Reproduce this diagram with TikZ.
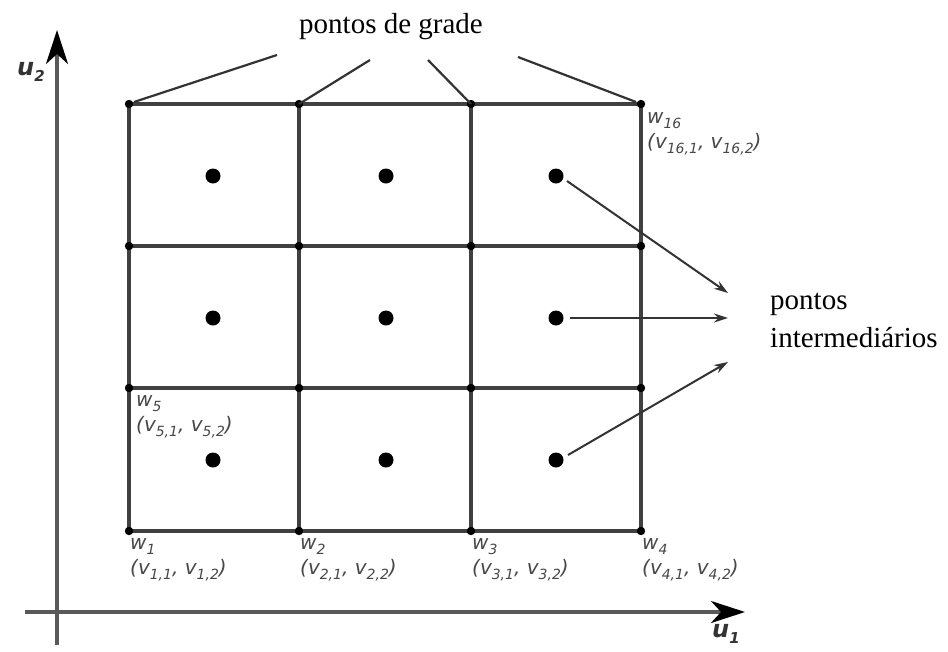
\documentclass[tikz,border=0pt]{standalone}
\usepackage{fontspec}
\setmainfont{Liberation Serif}
\newfontfamily\labf{DejaVu Sans}
\usetikzlibrary{arrows.meta}
\newcommand\lsub[1]{\raisebox{-0.45ex}{\fontsize{14}{14}\selectfont #1}}
\newcommand\bsub[1]{\raisebox{-0.45ex}{\fontsize{15}{15}\selectfont #1}}
\begin{document}
\begin{tikzpicture}[x=1pt,y=-1pt,
  gridline/.style={line width=3.2pt, draw=black!75},
  gdot/.style={fill=black},
  mdot/.style={fill=black},
  axisline/.style={line width=3.4pt, draw=black!65, -{Stealth[length=34pt,width=22pt,inset=10pt,color=black]}},
  ptr/.style={line width=2pt, draw=black!80, -{Stealth[length=14pt,width=9pt]}},
  lead/.style={line width=2.2pt, draw=black!80},
  wlab/.style={anchor=north west, inner sep=0pt, align=left, text=black!72,
    font=\labf\itshape\fontsize{20}{25}\selectfont},
  ulab/.style={font=\labf\itshape\bfseries\fontsize{24}{24}\selectfont, text=black!80},
  bigtext/.style={font=\fontsize{29}{38}\selectfont, inner sep=0pt}
]
\useasboundingbox (0,0) rectangle (948,651);

% axes
\coordinate (yb) at (57,645);
\coordinate (yt) at (57,30);
\coordinate (xl) at (25,612);
\coordinate (xr) at (745,612);
\draw[axisline] (yb) -- (yt);
\draw[axisline] (xl) -- (xr);
\node[ulab] (u2) at (31,72) {u\bsub{2}};
\node[ulab] (u1) at (726,634) {u\bsub{1}};

% grid coordinates
\foreach \i/\x in {1/129,2/299,3/471,4/641}{
  \foreach \j/\y in {1/531,2/388,3/246,4/104}{
    \coordinate (g-\i-\j) at (\x,\y);
  }
}
% grid lines
\foreach \j in {1,2,3,4}{ \draw[gridline] (g-1-\j) -- (g-4-\j); }
\foreach \i in {1,2,3,4}{ \draw[gridline] (g-\i-1) -- (g-\i-4); }
% grid dots
\foreach \i in {1,2,3,4}{ \foreach \j in {1,2,3,4}{ \fill[gdot] (g-\i-\j) circle (4.2pt); } }

% intermediate points
\foreach \i/\x in {1/213,2/386,3/556}{
  \foreach \j/\y in {1/460,2/318,3/176}{
    \coordinate (m-\i-\j) at (\x,\y);
    \fill[mdot] (m-\i-\j) circle (7.5pt);
  }
}

% leads to "pontos de grade"
\node[bigtext] (grade) at (391,27) {pontos de grade};
\coordinate (c1) at (277,55);
\coordinate (c2) at (370,60);
\coordinate (c3) at (428,60);
\coordinate (c4) at (518,57);
\draw[lead] (g-1-4) ++(5,-2) -- (c1);
\draw[lead] (g-2-4) -- (c2);
\draw[lead] (g-3-4) -- (c3);
\draw[lead] (g-4-4) ++(-5,-2) -- (c4);

% arrows to "pontos intermediários"
\node[bigtext, anchor=west, align=left] (inter) at (770,320) {pontos\\intermedi\'arios};
\coordinate (t1) at (728,293);
\coordinate (t2) at (728,318);
\coordinate (t3) at (728,362);
\draw[ptr] (m-3-3) ++(11,5) -- (t1);
\draw[ptr] (m-3-2) ++(14,0) -- (t2);
\draw[ptr] (m-3-1) ++(12,-5) -- (t3);

% point labels
\node[wlab] (lw1) at (130,538) {w\lsub{1}\\(v\lsub{1,1}, v\lsub{1,2})};
\node[wlab] (lw2) at (300,538) {w\lsub{2}\\(v\lsub{2,1}, v\lsub{2,2})};
\node[wlab] (lw3) at (472,538) {w\lsub{3}\\(v\lsub{3,1}, v\lsub{3,2})};
\node[wlab] (lw4) at (642,538) {w\lsub{4}\\(v\lsub{4,1}, v\lsub{4,2})};
\node[wlab] (lw5) at (136,395) {w\lsub{5}\\(v\lsub{5,1}, v\lsub{5,2})};
\node[wlab] (lw16) at (647,112) {w\lsub{16}\\(v\lsub{16,1}, v\lsub{16,2})};
\end{tikzpicture}
\end{document}
